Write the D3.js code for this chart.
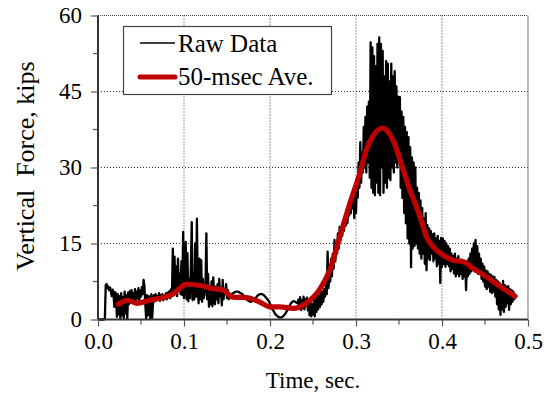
<!DOCTYPE html>
<html><head><meta charset="utf-8">
<script src="https://cdn.jsdelivr.net/npm/d3@7"></script>
<style>body{margin:0;background:#fff}svg{display:block}
svg text{font-family:"Liberation Serif","Times New Roman",Tinos,"DejaVu Serif",serif;}</style>
</head><body>
<svg id="c" width="547" height="398"></svg>
<script>
// ---- data ----
const xTicks = [0.0, 0.1, 0.2, 0.3, 0.4, 0.5];
const xTickLabels = ["0.0", "0.1", "0.2", "0.3", "0.4", "0.5"];
const yTicks = [0, 15, 30, 45, 60];
const yTickLabels = ["0", "15", "30", "45", "60"];
const xMinorTicks = [0.05, 0.15, 0.25, 0.35, 0.45];
const yMinorTicks = [7.5, 22.5, 37.5, 52.5];
const seriesNames = ["Raw Data", "50-msec Ave."];

// raw data sampled every 1 msec from t = 0.000 s
const rawStart = 0.0, rawStep = 0.001;
const rawForce = [
 0,0,0,0,0,0,0,0,0.3,6.8,
 7.0,6.2,6.5,5.8,6.3,5.5,4.6,5.9,5.2,2.5,
 5.4,4.8,0.5,5.0,1.0,4.6,0.2,5.2,0.8,4.4,
 0.3,5.5,1.2,4.8,0.1,5.3,3.0,5.6,3.4,5.8,
 3.6,5.2,4.0,6.0,3.2,5.5,4.2,6.2,3.8,5.7,
 4.5,6.4,5.0,7.8,6.5,3.0,0.2,4.8,0.8,4.6,
 1.5,0.1,5.0,0.3,3.5,4.8,3.6,5.0,3.8,4.6,
 4.0,5.2,3.7,4.8,4.2,5.0,3.8,4.6,4.4,5.2,
 4.0,5.3,4.5,5.6,4.2,6.0,5.0,14.0,4.8,12.4,
 5.5,10.5,4.6,12.0,6.0,9.0,5.0,11.5,4.8,17.3,
 4.2,9.5,15.3,4.0,13.1,3.6,8.0,4.2,10.5,19.2,
 3.8,9.0,4.0,15.0,4.5,19.9,6.0,3.2,12.0,4.0,
 11.7,3.5,8.0,4.2,5.0,6.5,17.0,4.0,9.0,2.5,
 6.0,3.0,7.5,2.6,8.3,5.2,3.0,6.5,4.0,7.0,
 3.2,8.0,4.5,5.5,2.8,7.8,4.0,6.0,5.0,7.0,
 4.2,5.8,4.0,4.5,4.7,4.9,5.1,5.2,5.3,5.4,
 5.5,5.5,5.5,5.5,5.4,5.3,5.2,5.1,5.0,4.8,
 4.6,4.4,4.2,4.0,3.8,3.7,3.6,3.5,3.5,3.6,
 3.7,3.8,4.0,4.2,4.4,4.6,4.8,4.9,5.0,5.0,
 5.0,5.0,4.9,4.8,4.6,4.4,4.2,4.0,3.8,3.5,
 3.1,2.7,2.3,2.0,1.7,1.4,1.1,0.9,0.8,0.6,
 0.5,0.4,0.4,0.4,0.5,0.6,0.8,1.0,1.2,1.5,
 1.8,2.1,2.5,2.8,3.1,3.3,3.5,3.6,3.6,3.5,
 3.4,3.3,3.2,3.9,2.5,4.4,1.9,3.8,2.2,4.5,
 2.0,4.0,2.8,4.3,1.8,3.6,0.8,3.5,0.6,3.0,
 1.0,3.8,0.6,4.2,1.5,5.0,2.0,4.6,2.5,6.3,
 3.0,5.5,3.5,6.0,4.5,6.8,5.0,13.4,6.2,9.0,
 7.5,12.0,8.5,13.0,10.0,15.7,11.5,15.0,13.0,17.0,
 14.0,18.3,15.5,18.0,16.5,19.5,17.5,20.0,18.5,21.6,
 19.0,22.0,20.5,23.0,21.0,24.5,22.0,25.0,20.0,26.0,
 21,27,24,31,26,35,27,33,29,38,
 30,40,29,42,31,43,28,54.7,26,53.7,
 25,52,24.5,50,27,54.4,25,55.7,24.5,54.4,
 30,53,25,48,27,51,26,50.5,28,47,
 27.5,50.5,30,48,29,49,31,46,30,44,
 32,43.9,26,41,24,40,21,38,19,37,
 16,36,15,34,10.3,32,14,31,14.5,30,
 15,26,14,25,13,23.5,12,22,13,20,
 11,21,9.7,18.6,12,18,11.7,17.5,13,16.8,
 11.5,17,12,16,10.5,16.5,11,15.5,7.2,16.1,
 10.4,16.0,11,15.5,10.4,15,11,14.5,10.5,14,
 9.5,13,10,12.5,9.1,13,8.5,12,9,12.5,
 8.5,11.5,9,11.8,8,11.5,8.5,11,5.8,11.5,
 8.5,12,9,13,9.5,14,10,15,9.5,15.7,
 9.5,14.5,9,13,9,12,8,11,7.5,10.5,
 6.5,9.7,6,9.5,6.5,9,5.5,8.8,5.2,8.5,
 5.5,8.4,4.5,7.8,3,7.5,2,7.2,0.9,6.8,
 2,7.6,1.5,6.8,2.5,6.5,3.2,6.6,1.9,6,
 3,5.8,3.5,5.5,4,4.5
];

// 50-msec moving average
const aveTime = [0.0236,0.0345,0.045,0.06,0.072,0.087,0.103,0.1186,0.134,0.1455,0.157,0.173,0.188,0.2,0.2116,0.227,0.2426,0.258,0.27,0.2814,0.293,0.3047,0.312,0.32,0.331,0.343,0.355,0.3628,0.3686,0.3744,0.382,0.39,0.4016,0.413,0.425,0.436,0.452,0.467,0.485];
const aveForce = [3.0,3.8,3.2,3.8,4.2,5.0,7.0,6.7,6.1,5.8,4.4,4.3,3.45,2.5,2.5,2.2,3.3,6.0,10.0,16.5,23.0,29.0,33.5,36.3,37.8,35.4,29.5,25.5,23.0,20.3,16.3,14.3,12.7,11.7,11.4,10.1,8.4,6.6,4.6];

// ---- chart ----
const svg = d3.select("#c");
const m = {l: 98, r: 528, t: 15.5, b: 319.5};
const x = d3.scaleLinear().domain([0, 0.5]).range([m.l, m.r]);
const y = d3.scaleLinear().domain([0, 60]).range([m.b, m.t]);

const raw = rawForce.map((v, i) => [rawStart + i * rawStep, v]);
const ave = aveTime.map((t, i) => [t, aveForce[i]]);

// grid
const grid = svg.append("g");
grid.selectAll("line.gx").data(xTicks.slice(1, -1)).join("line")
  .attr("x1", d => x(d)).attr("x2", d => x(d)).attr("y1", m.t).attr("y2", m.b)
  .attr("stroke", "#333").attr("stroke-width", 1).attr("stroke-dasharray", "1,2");
grid.selectAll("line.gy").data(yTicks.slice(1, -1)).join("line")
  .attr("y1", d => y(d)).attr("y2", d => y(d)).attr("x1", m.l).attr("x2", m.r)
  .attr("stroke", "#333").attr("stroke-width", 1).attr("stroke-dasharray", "1,2");
// top and right frame
svg.append("line").attr("x1", m.l).attr("x2", m.r).attr("y1", m.t).attr("y2", m.t)
  .attr("stroke", "#444").attr("stroke-width", 1.2).attr("stroke-dasharray", "1,1");
svg.append("line").attr("x1", m.r).attr("x2", m.r).attr("y1", m.t).attr("y2", m.b)
  .attr("stroke", "#888").attr("stroke-width", 1.2);

// data lines
const line = d3.line().x(d => x(d[0])).y(d => y(d[1]));
svg.append("path").datum(raw).attr("d", line)
  .attr("fill", "none").attr("stroke", "#000").attr("stroke-width", 2.3).attr("stroke-linejoin", "round");
svg.append("path").datum(ave).attr("d", line.curve(d3.curveMonotoneX))
  .attr("fill", "none").attr("stroke", "#c00000").attr("stroke-width", 5.2).attr("stroke-linecap", "round");

// axes
const xAxis = d3.axisBottom(x).tickValues(xTicks).tickFormat((d, i) => xTickLabels[i]).tickSize(7).tickPadding(6);
const gx = svg.append("g").attr("transform", `translate(0,${m.b})`).call(xAxis);
gx.append("g").selectAll("line").data(xMinorTicks).join("line")
  .attr("x1", d => x(d)).attr("x2", d => x(d)).attr("y1", 0).attr("y2", 5).attr("stroke", "#555").attr("stroke-width", 1.2);
const yAxis = d3.axisLeft(y).tickValues(yTicks).tickFormat((d, i) => yTickLabels[i]).tickSize(7).tickPadding(9);
const gy = svg.append("g").attr("transform", `translate(${m.l},0)`).call(yAxis);
gy.append("g").selectAll("line").data(yMinorTicks).join("line")
  .attr("y1", d => y(d)).attr("y2", d => y(d)).attr("x1", 0).attr("x2", -5).attr("stroke", "#555").attr("stroke-width", 1.2);
[gx, gy].forEach(g => {
  g.attr("font-family", null);
  g.select(".domain").attr("stroke", "#333").attr("stroke-width", 2);
  g.selectAll(".tick line").attr("stroke", "#555").attr("stroke-width", 1.2);
  g.selectAll("text").attr("font-size", 23).attr("fill", "#000");
});
gx.select(".domain").attr("d", `M${m.l},0H${m.r}`);
gy.select(".domain").attr("d", `M0,${m.b}V${m.t}`);

// axis titles
svg.append("text").attr("x", (m.l + m.r) / 2).attr("y", 388).attr("text-anchor", "middle")
  .attr("font-size", 23).text("Time, sec.");
svg.append("text").attr("transform", `translate(34,166) rotate(-90)`).attr("text-anchor", "middle")
  .attr("font-size", 26).style("white-space", "pre")
  .text("Vertical  Force, kips");

// legend
const lg = svg.append("g");
lg.append("rect").attr("x", 123.5).attr("y", 26.5).attr("width", 208).attr("height", 68)
  .attr("fill", "#fff").attr("stroke", "#444").attr("stroke-width", 1.2);
lg.append("line").attr("x1", 140).attr("x2", 175).attr("y1", 43).attr("y2", 43).attr("stroke", "#000").attr("stroke-width", 1.6);
lg.append("line").attr("x1", 140).attr("x2", 175).attr("y1", 77).attr("y2", 77).attr("stroke", "#c00000").attr("stroke-width", 5).attr("stroke-linecap", "round");
lg.append("text").attr("x", 178).attr("y", 51.5).attr("font-size", 25).text(seriesNames[0]);
lg.append("text").attr("x", 178).attr("y", 85).attr("font-size", 25).text(seriesNames[1]);
</script>
</body></html>
